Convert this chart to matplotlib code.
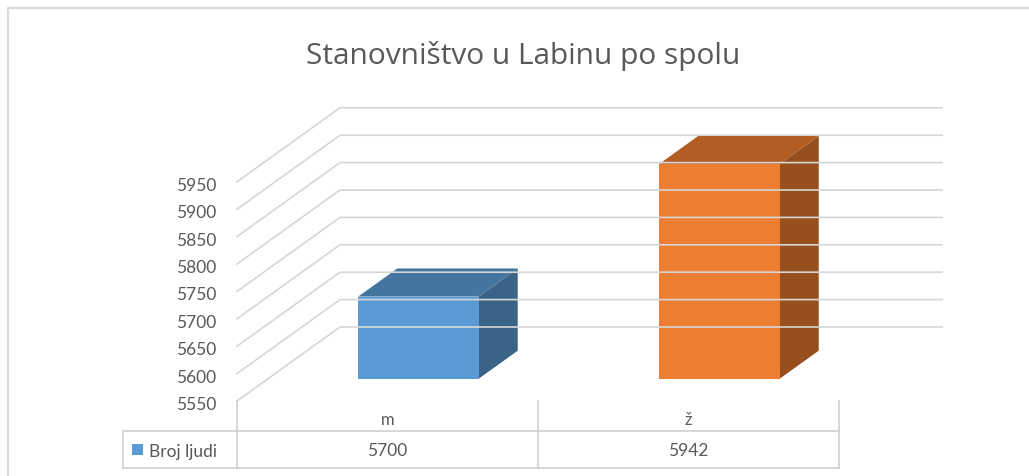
import matplotlib
matplotlib.use("Agg")
import matplotlib.pyplot as plt
from matplotlib.patches import Polygon

# data
categories = ['m', 'ž']
values = [5700, 5942]
seriesName = 'Broj ljudi'
axisTicks = [5550, 5600, 5650, 5700, 5750, 5800, 5850, 5900, 5950]
chartTitle = 'Stanovništvo u Labinu po spolu'

# 3d box layout in pixels
floorLeft = 237
colWidth = 301
floorFrontY = 402
pxPerStep = 27.4
tickStep = 50
depthDx = 103
depthDy = 74
barDepth = (0.3, 0.68)
barHalf = 0.2

frontColors = ['#5b9bd5', '#ed7d31']
topColors = ['#44759f', '#b25d23']
sideColors = ['#3a6388', '#974f1e']
gridColor = '#d6d6d6'
textColor = '#595959'


def project(xc, v, d):
    x = floorLeft + xc * colWidth + depthDx * d
    y = floorFrontY - (v - axisTicks[0]) / tickStep * pxPerStep - depthDy * d
    return (x, y)


fig = plt.figure(figsize=(10.29, 4.77), dpi=100)
ax = fig.add_axes([0, 0, 1, 1])
ax.set_xlim(0, 1029)
ax.set_ylim(477, 0)
ax.axis('off')

# chart frame
ax.plot([8, 8, 1029], [477, 9, 9], color='#d9d9d9', lw=1.6, solid_capstyle='butt')

# gridlines on side wall and back wall
nCols = len(categories)
for v in axisTicks:
    p0 = project(0, v, 0)
    p1 = project(0, v, 1)
    p2 = project(nCols, v, 1)
    ax.plot([p0[0], p1[0], p2[0]], [p0[1], p1[1], p2[1]], color=gridColor, lw=1.2)
    ax.text(216, p0[1] + 3, str(v), ha='right', va='center', fontsize=12.5,
            color=textColor, family='Lato')

# bars
for i, val in enumerate(values):
    x0 = i + 0.5 - barHalf
    x1 = i + 0.5 + barHalf
    d0, d1 = barDepth
    base = axisTicks[0]
    front = [project(x0, base, d0), project(x1, base, d0), project(x1, val, d0), project(x0, val, d0)]
    top = [project(x0, val, d0), project(x1, val, d0), project(x1, val, d1), project(x0, val, d1)]
    side = [project(x1, base, d0), project(x1, base, d1), project(x1, val, d1), project(x1, val, d0)]
    ax.add_patch(Polygon(side, closed=True, facecolor=sideColors[i], edgecolor='none'))
    ax.add_patch(Polygon(top, closed=True, facecolor=topColors[i], edgecolor='none'))
    ax.add_patch(Polygon(front, closed=True, facecolor=frontColors[i], edgecolor='none'))

# data table under the chart
tableLeft = 123
rowMid = 432
rowBottom = 469
tableRight = floorLeft + nCols * colWidth
lineKw = dict(color='#d0d0d0', lw=1.2)
for i in range(nCols + 1):
    xv = floorLeft + i * colWidth
    ax.plot([xv, xv], [floorFrontY, rowBottom], **lineKw)
ax.plot([tableLeft, tableRight], [rowMid, rowMid], **lineKw)
ax.plot([tableLeft, tableRight], [rowBottom, rowBottom], **lineKw)
ax.plot([tableLeft, tableLeft], [rowMid, rowBottom], **lineKw)

for i, (cat, val) in enumerate(zip(categories, values)):
    xc = floorLeft + (i + 0.5) * colWidth
    ax.text(xc, 420, cat, ha='center', va='center', fontsize=12, color=textColor, family='Lato')
    ax.text(xc, 451, str(val), ha='center', va='center', fontsize=12.5, color=textColor, family='Lato')

ax.add_patch(plt.Rectangle((132, 445), 11, 11, facecolor=frontColors[0], edgecolor='none'))
ax.text(149, 452, seriesName, ha='left', va='center', fontsize=12.5, color=textColor, family='Lato')

ax.text(523, 56, chartTitle, ha='center', va='center', fontsize=21.5, color=textColor,
        family='Open Sans')

fig.savefig('out.png', dpi=100)
